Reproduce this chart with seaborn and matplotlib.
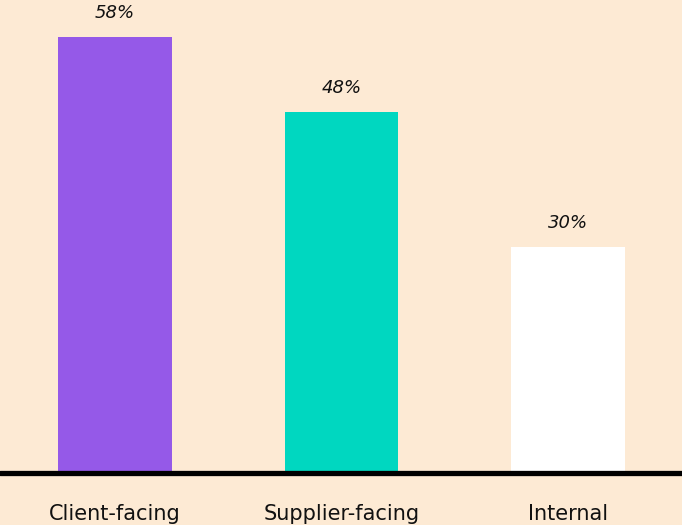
import matplotlib
matplotlib.use("Agg")
import matplotlib.pyplot as plt
import seaborn as sns
import pandas as pd

categories = ["Client-facing", "Supplier-facing", "Internal"]
values = [58, 48, 30]
labels = ["58%", "48%", "30%"]
colors = ["#9559E8", "#00D7C0", "#FFFFFF"]

bg = "#FDEAD4"
sns.set_theme(style="white")
plt.rcParams['font.family'] = ['DejaVu Sans']

fig = plt.figure(figsize=(6.82, 5.25), dpi=100, facecolor=bg)
ax = fig.add_axes([0, 52/525, 1, 473/525])
ax.set_facecolor(bg)

df = pd.DataFrame({"cat": categories, "val": values})
sns.barplot(data=df, x="cat", y="val", hue="cat", palette=colors, width=0.5,
            legend=False, ax=ax, saturation=1, linewidth=0)

ax.set_xlim(-0.508, 2.503)
ax.set_ylim(0, 62.9)
for s in ax.spines.values():
    s.set_visible(False)
ax.set_yticks([])
ax.set_xlabel("")
ax.set_ylabel("")
ax.tick_params(axis="x", length=0, pad=22, labelsize=15, labelcolor="#111111")
ax.axhline(0, color="black", lw=3.8, clip_on=False)

for i, (v, t) in enumerate(zip(values, labels)):
    ax.annotate(t, xy=(i, v), xytext=(0, 11), textcoords="offset points",
                ha="center", va="bottom", fontsize=13, style="italic", color="#111111")

fig.savefig("out.png", dpi=100, facecolor=bg)
